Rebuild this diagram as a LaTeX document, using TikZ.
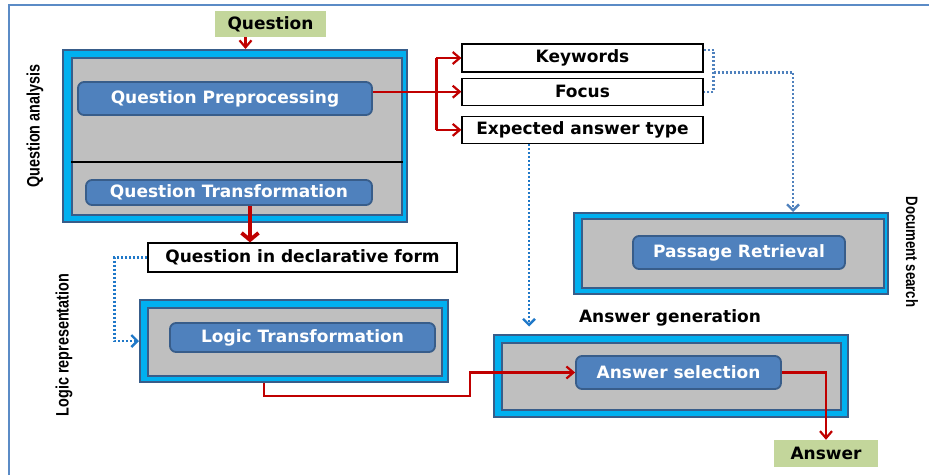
\documentclass[tikz,border=0pt]{standalone}
\usepackage{fontspec}
\usepackage{color}
\usetikzlibrary{positioning,calc,arrows.meta}
\newfontfamily\boxfont{DejaVu Sans}
\newfontfamily\sidefont{Liberation Sans}
\definecolor{qgreen}{HTML}{C3D69B}
\definecolor{qcyan}{HTML}{00B0F0}
\definecolor{qgray}{HTML}{BFBFBF}
\definecolor{qblue}{HTML}{4F81BD}
\definecolor{qdark}{HTML}{385D8A}
\definecolor{qred}{HTML}{C00000}
\definecolor{qdot}{HTML}{1F78C8}
\definecolor{qframe}{HTML}{5B8BC6}

\begin{document}
\begin{tikzpicture}[x=1pt, y=-1pt,
    every node/.style={font=\boxfont\bfseries\fontsize{17}{20}\selectfont, inner sep=0pt},
    stage/.style={draw=qdark, line width=2pt, fill=qcyan},
    stagein/.style={draw=qdark, line width=2pt, fill=qgray},
    task/.style={draw=qdark, line width=1.8pt, fill=qblue, rounded corners=6pt, text=white},
    result/.style={draw=black, line width=1.2pt, fill=white, minimum width=241pt, minimum height=27pt},
    io/.style={fill=qgreen},
    side/.style={font=\sidefont\bfseries\fontsize{18}{20}\selectfont},
    flow/.style={draw=qred, line width=2.2pt, -{Straight Barb[length=7pt,width=12pt]}},
    hint/.style={draw=qdot, line width=2.4pt, dash pattern=on 2pt off 2pt, -{Straight Barb[length=6pt,width=12pt]}}]
  \useasboundingbox (0,0) rectangle (929,475);
  \draw[qframe, line width=2.4pt] (9,475) -- (9,5) -- (929,5);
  % question analysis
  \node[io, minimum width=111pt, minimum height=26pt] (question) at (270.5,24) {Question};
  \node[stage, minimum width=344pt, minimum height=172pt] (qaout) at (235,136) {};
  \node[stagein, minimum width=330pt, minimum height=157pt] (qain) at (237,136.5) {};
  \coordinate (cut) at (0,162);
  \draw[line width=1.8pt] (qain.west |- cut) -- (qain.east |- cut);
  \node[task, minimum width=294pt, minimum height=33pt] (prep) at (225,98.5) {Question Preprocessing};
  \node[task, minimum width=286pt, minimum height=25pt] (trans) at (229,192.5) {Question Transformation};
  \node[side, rotate=90] (qalabel) at (35,126) {\scalebox{0.8}[1]{Question analysis}};
  \node[result, minimum height=28pt] (keywords) at (582.5,58) {Keywords};
  \node[result, below=5pt of keywords] (focus) {Focus};
  \node[result, below=10pt of focus] (eat) {Expected answer type};
  \node[draw=black, line width=1.2pt, fill=white, minimum width=309pt, minimum height=29pt] (declar) at (302.5,257.5) {Question in declarative form};
  % logic representation
  \node[stage, minimum width=308pt, minimum height=82pt] (lrout) at (294,341) {};
  \node[stagein, minimum width=294pt, minimum height=68pt] (lrin) at (295,342) {};
  \node[task, minimum width=265pt, minimum height=29pt] (logic) at (302.5,337.5) {Logic Transformation};
  \node[side, rotate=90] (lrlabel) at (64,345) {\scalebox{0.8}[1]{Logic representation}};
  % document search
  \node[stage, minimum width=314pt, minimum height=81pt] (dsout) at (731,253.5) {};
  \node[stagein, minimum width=302pt, minimum height=69pt] (dsin) at (733,253.5) {};
  \node[task, minimum width=212pt, minimum height=33pt] (passage) at (739,252.5) {Passage Retrieval};
  \node[side, rotate=-90, font=\sidefont\bfseries\fontsize{16.5}{18}\selectfont] (dslabel) at (912,252) {\scalebox{0.8}[1]{Document search}};
  % answer generation
  \node (aglabel) at (670,318) {Answer generation};
  \node[stage, minimum width=354pt, minimum height=82pt] (agout) at (671,376) {};
  \node[stagein, minimum width=339pt, minimum height=67pt] (agin) at (671.5,376.5) {};
  \node[task, minimum width=205pt, minimum height=33pt] (select) at (678.5,372.5) {Answer selection};
  \node[io, minimum width=104pt, minimum height=27pt] (answer) at (826,453.5) {Answer};

  \coordinate (qin) at ([xshift=-25pt]question.south);
  \draw[flow] (qin) -- (qin |- qaout.north);
  \coordinate (tout) at ([xshift=21pt]trans.south);
  \draw[flow, line width=3.8pt, -{Straight Barb[length=7pt,width=17pt]}] (tout) -- (tout |- declar.north);
  \coordinate[left=25pt of focus.west] (split);
  \draw[flow] (prep.east |- focus.west) -- (focus.west);
  \draw[flow] (split |- keywords.west) -- (keywords.west);
  \draw[flow] (split |- eat.west) -- (eat.west);
  \draw[draw=qred, line width=2.2pt] (split |- keywords.west) -- (split |- eat.west);
  \draw[hint, draw=qblue, -] ([yshift=8pt]keywords.east) -| ([xshift=10pt]focus.east) -- (focus.east);
  \coordinate (kf) at ([xshift=10pt]keywords.south east);
  \draw[hint, draw=qblue] (kf) -| ([xshift=62pt]dsout.north);
  \coordinate (eatfoot) at ([xshift=-53.5pt]eat.south);
  \draw[hint] (eatfoot) -- (eatfoot |- aglabel.south);
  \draw[hint] (declar.west) -- ++(-33,0) |- (lrout.west);
  \draw[flow] ([xshift=-30pt]lrout.south) -- ++(0,13) -| ([xshift=-105pt]select.west) -- (select.west);
  \draw[flow] (select.east) -| (answer.north);
\end{tikzpicture}
\end{document}
